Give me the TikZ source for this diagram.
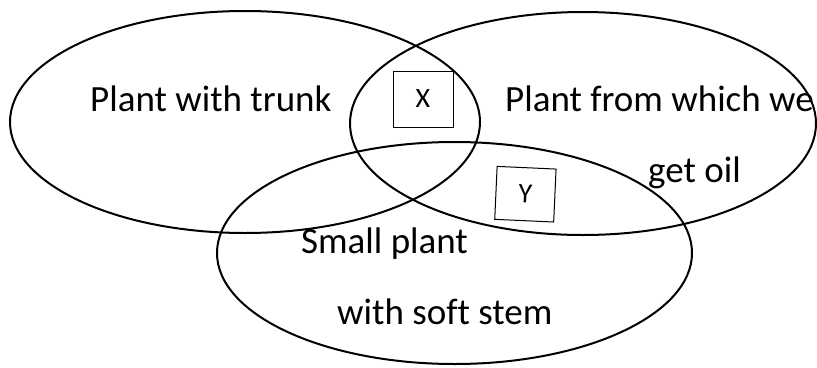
\documentclass[tikz,border=0pt]{standalone}
\usepackage{fontspec}
\setmainfont[Ligatures=NoCommon]{Carlito}
\begin{document}
\begin{tikzpicture}[x=1pt,y=-1pt,
  circ/.style={draw=black,line width=2pt},
  lbl/.style={anchor=base west,inner sep=0pt,font=\fontsize{37}{44}\selectfont},
  tag/.style={draw=black,line width=1pt,minimum width=60pt,minimum height=56pt,inner sep=0pt,font=\fontsize{28}{33}\selectfont}]
\useasboundingbox (0,0) rectangle (817,367);
\draw[circ] (245,122) ellipse [x radius=235, y radius=111];
\draw[circ] (583,123.5) ellipse [x radius=233, y radius=111.5];
\draw[circ] (454.5,253) ellipse [x radius=237.5, y radius=111];
\node[lbl] (t1) at (90,111) {Plant with trunk};
\node[lbl] (t2) at (505,111) {Plant from which we};
\node[lbl] (t3) at (648,182) {get oil};
\node[lbl] (t4) at (301,253) {Small plant};
\node[lbl] (t5) at (337,324) {with soft stem};
\node[tag] (x) at (423,99) {X};
\node[tag,minimum width=59pt,minimum height=53pt,rotate=-2.6] (y) at (525.4,194.2) {Y};
\end{tikzpicture}
\end{document}
